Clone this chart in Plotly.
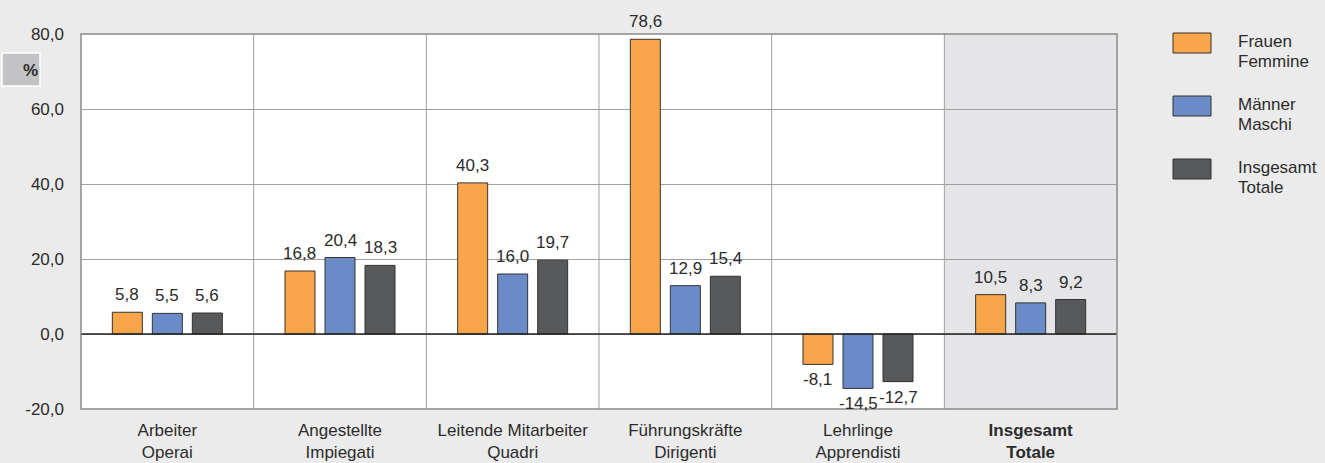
import plotly.graph_objects as go

categories = ["Arbeiter<br>Operai", "Angestellte<br>Impiegati", "Leitende Mitarbeiter<br>Quadri",
              "Führungskräfte<br>Dirigenti", "Lehrlinge<br>Apprendisti", "<b>Insgesamt<br>Totale</b>"]
frauen = [5.8, 16.8, 40.3, 78.6, -8.1, 10.5]
maenner = [5.5, 20.4, 16.0, 12.9, -14.5, 8.3]
insgesamt = [5.6, 18.3, 19.7, 15.4, -12.7, 9.2]
series_names = ["Frauen<br>Femmine", "Männer<br>Maschi", "Insgesamt<br>Totale"]
colors = ["#F9A64A", "#6A8BC8", "#58595B"]
y_ticks = [-20, 0, 20, 40, 60, 80]

FONT = "Liberation Sans, Arial, sans-serif"
TXT = "#2B2B2B"
FS = 17

L, R, T, B = 81, 1117, 34, 409
PW, PH = R - L, B - T

def px(xpix):
    return (xpix - L) / PW

def py(ypix):
    return (B - ypix) / PH

def fmt(v):
    return f"{v:.1f}".replace(".", ",")

fig = go.Figure()
all_series = [frauen, maenner, insgesamt]
for name, vals, col in zip(series_names, all_series, colors):
    fig.add_trace(go.Bar(
        x=categories, y=vals, name=name,
        marker=dict(color=col, line=dict(color="#333333", width=1)),
        showlegend=False, hovertemplate="%{y:.1f}<extra></extra>",
    ))

bargap = 0.305
slot_px = (1 - bargap) * PW / len(categories) / 3

annotations = []
for k, vals in enumerate(all_series):
    for cat, v in zip(categories, vals):
        if v >= 0:
            annotations.append(dict(x=cat, y=v, xref="x", yref="y", text=fmt(v), showarrow=False,
                                    xshift=(k - 1) * slot_px, yanchor="bottom", yshift=6,
                                    font=dict(size=FS, color=TXT, family=FONT)))
        else:
            annotations.append(dict(x=cat, y=v, xref="x", yref="y", text=fmt(v), showarrow=False,
                                    xshift=(k - 1) * slot_px, yanchor="top", yshift=-4,
                                    font=dict(size=FS, color=TXT, family=FONT)))

shapes = []
shapes.append(dict(type="rect", xref="x", yref="paper", x0=4.5, x1=5.5, y0=0, y1=1,
                   fillcolor="#E5E5E7", line=dict(width=0), layer="below"))
for i in range(len(categories) - 1):
    shapes.append(dict(type="line", xref="x", yref="paper", x0=i + 0.5, x1=i + 0.5, y0=0, y1=1,
                       line=dict(color="#A0A0A0", width=1), layer="below"))
shapes.append(dict(type="line", xref="paper", yref="y", x0=0, x1=1, y0=0, y1=0,
                   line=dict(color="#222222", width=1.5), layer="above"))
shapes.append(dict(type="rect", xref="paper", yref="paper", x0=0, x1=1, y0=0, y1=1,
                   line=dict(color="#8A8A8A", width=1.5), layer="above"))

# % box
shapes.append(dict(type="rect", xref="paper", yref="paper",
                   x0=px(2), x1=px(40), y0=py(86), y1=py(53),
                   fillcolor="#C3C3C6", line=dict(color="white", width=1.5)))
annotations.append(dict(xref="paper", yref="paper", x=px(21), y=py(70),
                        text="<b>%</b>", showarrow=False, yanchor="middle",
                        font=dict(size=FS, color=TXT, family=FONT)))

# custom legend
for k, (name, col) in enumerate(zip(series_names, colors)):
    yc = 43 + 63 * k
    shapes.append(dict(type="rect", xref="paper", yref="paper",
                       x0=px(1173), x1=px(1211), y0=py(yc + 10), y1=py(yc - 10),
                       fillcolor=col, line=dict(color="#333333", width=1)))
    for j, line in enumerate(name.split("<br>")):
        annotations.append(dict(xref="paper", yref="paper", x=px(1236), y=py(yc - 1.5 + 20 * j),
                                xanchor="left", yanchor="middle", align="left", text=line,
                                showarrow=False, font=dict(size=FS, color=TXT, family=FONT)))

fig.update_layout(
    width=1325, height=463,
    margin=dict(l=L, r=1325 - R, t=T, b=463 - B, autoexpand=False),
    paper_bgcolor="#EBEBEB", plot_bgcolor="white",
    barmode="group", bargap=bargap, bargroupgap=0.25,
    font=dict(family=FONT, size=FS, color=TXT),
    shapes=shapes, annotations=annotations,
    xaxis=dict(type="category", showgrid=False, zeroline=False, showline=False, ticks="",
               tickfont=dict(size=FS, color=TXT), range=[-0.5, 5.5], ticklabelstandoff=9,
               automargin=False),
    yaxis=dict(range=[-20, 80], tickvals=y_ticks, ticktext=[fmt(t) for t in y_ticks],
               showgrid=True, gridcolor="#A0A0A0", gridwidth=1, zeroline=False, showline=False,
               ticks="", tickfont=dict(size=FS, color=TXT), ticklabelstandoff=16,
               automargin=False),
)

fig.write_html("out.html", config={"displayModeBar": False},
               post_script="document.body.style.margin='0';document.body.style.background='#EBEBEB';document.body.style.overflow='hidden';")
